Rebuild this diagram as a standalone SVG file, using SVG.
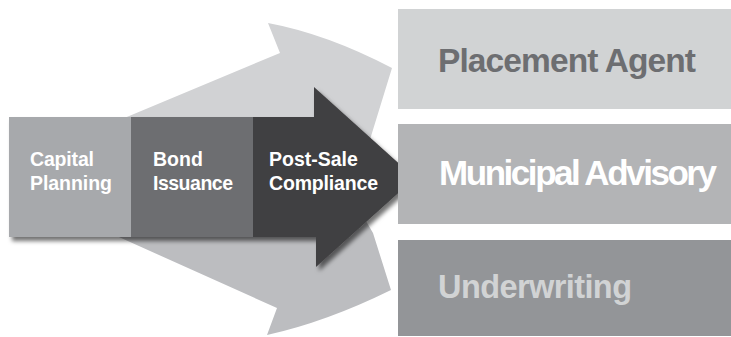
<svg xmlns="http://www.w3.org/2000/svg" width="731" height="337" viewBox="0 0 731 337">
<defs>
<style>
text{font-family:"Liberation Sans",Arial,sans-serif;font-weight:bold}
.small{font-size:19.5px;fill:#ffffff}
.big{font-size:33.5px}
</style>
<filter id="sh" x="-10%" y="-10%" width="130%" height="130%">
<feDropShadow dx="3" dy="4" stdDeviation="2" flood-color="#000" flood-opacity="0.55"/>
</filter>
</defs>
<rect width="731" height="337" fill="#ffffff"/>
<g id="connectors">
<path id="arrow-up" d="M110,124 L280,53 L268,23 Q327,34 392,68 L368,146 L330,200 L110,200 Z" fill="#d1d2d4"/>
<path id="arrow-down" d="M110,233 L277,308 L267,335 Q326,322 391,290 L373,233 L330,160 L110,160 Z" fill="#bcbdc0"/>
</g>
<g filter="url(#sh)">
<g id="node-capital">
<rect x="9" y="117" width="122" height="120" fill="#a7a9ac"/>
</g>
<g id="node-bond">
<rect x="131" y="117" width="122" height="120" fill="#6d6e71"/>
</g>
<g id="node-postsale">
<path d="M253,117 L314,117 L314,87 L415,178 L316,267 L316,237 L253,237 Z" fill="#414042"/>
</g>
</g>
<text class="small" x="30" y="166" textLength="64" lengthAdjust="spacing">Capital</text>
<text class="small" x="30" y="190" textLength="82" lengthAdjust="spacing">Planning</text>
<text class="small" x="153" y="166">Bond</text>
<text class="small" x="153" y="190" textLength="80" lengthAdjust="spacing">Issuance</text>
<text class="small" x="269" y="166">Post-Sale</text>
<text class="small" x="269" y="190" textLength="109" lengthAdjust="spacing">Compliance</text>
<g id="node-placement">
<rect x="398" y="9" width="340" height="100" fill="#d1d3d4"/>
<text class="big" x="438" y="72" fill="#6d6e71" textLength="258" lengthAdjust="spacing">Placement Agent</text>
</g>
<g id="node-municipal">
<rect x="398" y="124" width="340" height="100" fill="#b3b4b6"/>
<text class="big" x="439" y="185" fill="#ffffff" style="font-size:35px" textLength="278" lengthAdjust="spacing">Municipal Advisory</text>
</g>
<g id="node-underwriting">
<rect x="398" y="240" width="340" height="96" fill="#939598"/>
<text class="big" x="438" y="298" fill="#d1d3d4" style="font-size:32.5px" textLength="194" lengthAdjust="spacing">Underwriting</text>
</g>
</svg>
